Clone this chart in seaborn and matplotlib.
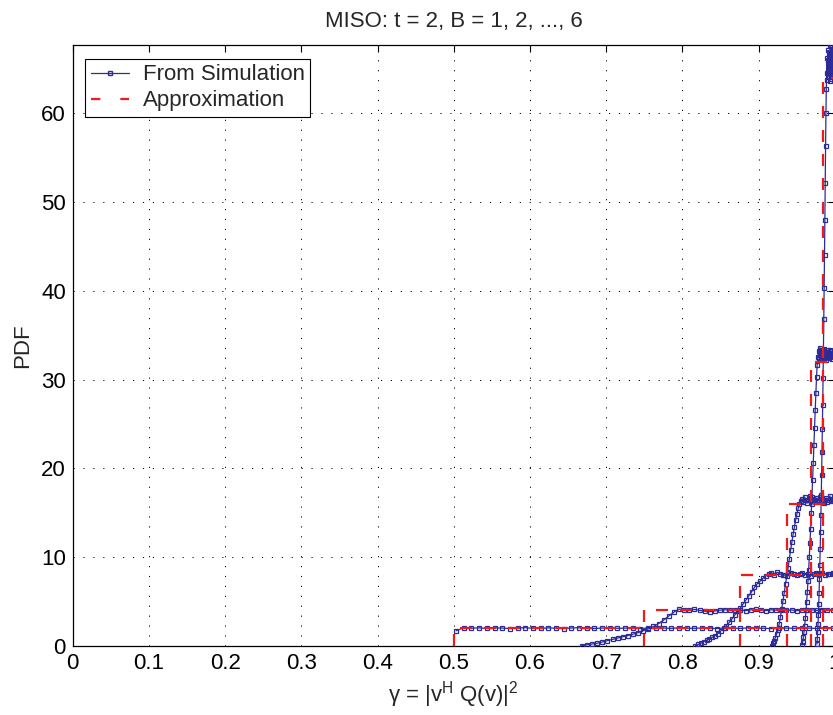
import numpy as np
import pandas as pd
import matplotlib
matplotlib.use("Agg")
import matplotlib.pyplot as plt
import seaborn as sns
from matplotlib.lines import Line2D

# ---------------- data ----------------
bits = [1, 2, 3, 4, 5, 6]
sim_start = [0.503, 0.668, 0.817, 0.917, 0.957, 0.9765]
sim_end = [0.997, 0.997, 0.998, 0.9985, 0.9993, 0.9997]

sim_b1 = [1.72, 2.06, 2.01, 2.04, 1.98, 2.05, 2.02, 1.97, 2.03, 2.06,
          2.00, 1.99, 2.04, 2.01, 1.96, 2.03, 2.05, 2.00, 1.98, 2.02,
          2.04, 1.99, 2.01, 2.06, 1.97, 2.02, 2.00, 2.03, 1.98, 2.05,
          2.01, 1.99, 2.04, 2.00, 1.97, 2.03, 2.02, 1.98, 2.05, 2.01,
          2.00, 1.96, 2.04, 2.02, 1.99, 2.03, 2.01, 1.98, 2.04, 2.00]
sim_b2 = [0.05, 0.13, 0.22, 0.31, 0.45, 0.60, 0.74, 0.90, 1.04, 1.18,
          1.33, 1.50, 1.72, 1.93, 2.20, 2.52, 2.93, 3.38, 3.82, 4.15,
          4.10, 4.06, 4.12, 4.02, 3.92, 3.86, 3.95, 4.04, 4.08, 4.01,
          4.10, 4.05, 3.98, 4.07, 4.12, 4.03, 3.99, 4.08, 4.04, 4.11,
          4.00, 4.06, 3.97, 4.09, 4.03, 4.07, 4.01, 4.10, 4.04, 4.06]
sim_b3 = [0.05, 0.18, 0.32, 0.50, 0.64, 0.80, 0.98, 1.17, 1.40, 1.68,
          1.98, 2.30, 2.65, 3.05, 3.48, 3.90, 4.28, 4.75, 5.20, 5.65,
          6.12, 6.62, 7.02, 7.30, 7.62, 7.90, 8.10, 8.22, 8.05, 8.30,
          8.15, 7.95, 8.02, 8.18, 8.26, 8.08, 7.98, 8.12, 8.28, 8.04,
          8.16, 7.92, 8.10, 8.24, 8.06, 8.20, 8.00, 8.14, 8.08, 8.22]
sim_b4 = [0.05, 0.30, 0.60, 0.95, 1.35, 1.85, 2.5, 3.3, 4.2, 5.1,
          6.0, 7.0, 7.9, 8.8, 9.8, 10.8, 11.7, 12.6, 13.4, 14.2,
          14.9, 15.5, 16.0, 16.3, 16.6, 16.2, 16.8, 16.4, 16.1, 16.5,
          16.9, 16.3, 16.0, 16.6, 16.4, 16.7, 16.2, 16.5, 16.8, 16.3,
          16.6, 16.1, 16.4, 16.7, 16.2, 16.5, 16.9, 16.3, 16.6, 16.4]
sim_b5 = [0.1, 0.5, 1.0, 1.6, 2.3, 3.1, 4.0, 5.0, 6.1, 7.3,
          8.6, 10.0, 11.6, 13.2, 15.0, 16.8, 18.7, 20.6, 22.6, 24.6,
          26.6, 28.5, 30.3, 31.7, 32.6, 33.2, 32.5, 33.6, 32.9, 32.3,
          33.4, 32.7, 33.0, 32.4, 33.5, 32.8, 32.2, 33.1, 32.6, 33.3,
          32.9, 32.5, 33.4, 32.7, 33.0, 32.3, 33.2, 32.8, 32.6, 33.1]
sim_b6 = [0.2, 0.8, 1.6, 2.5, 3.5, 4.7, 6.0, 7.5, 9.1, 10.9,
          12.8, 14.8, 17.0, 19.3, 21.8, 24.4, 27.2, 30.2, 33.4, 36.8,
          40.3, 44.0, 48.0, 52.2, 56.3, 60.0, 62.8, 64.5, 66.2, 63.8,
          65.9, 67.1, 64.2, 66.8, 65.3, 63.6, 66.5, 67.7, 64.9, 65.6,
          63.9, 66.9, 65.1, 64.4, 67.3, 65.8, 64.1, 66.4, 65.0, 66.0]
sim_values = [sim_b1, sim_b2, sim_b3, sim_b4, sim_b5, sim_b6]

approx_start = [0.5, 0.75, 0.875, 0.9375, 0.96875, 0.984375]
approx_height = [2, 4, 8, 16, 32, 64]

x_ticks = [0, 0.1, 0.2, 0.3, 0.4, 0.5, 0.6, 0.7, 0.8, 0.9, 1]
x_tick_labels = ["0", "0.1", "0.2", "0.3", "0.4", "0.5", "0.6", "0.7", "0.8", "0.9", "1"]
y_ticks = [0, 10, 20, 30, 40, 50, 60]

# ---------------- tables ----------------
rows = []
for b, s, e, vals in zip(bits, sim_start, sim_end, sim_values):
    xs = np.linspace(s, e, len(vals))
    for xv, yv in zip(xs, vals):
        rows.append({"B": b, "gamma": xv, "pdf": yv})
sim_df = pd.DataFrame(rows)

arows = []
for b, s, h in zip(bits, approx_start, approx_height):
    arows.append({"B": b, "order": 0, "gamma": s, "pdf": 0.0})
    arows.append({"B": b, "order": 1, "gamma": s, "pdf": float(h)})
    arows.append({"B": b, "order": 2, "gamma": 1.0, "pdf": float(h)})
approx_df = pd.DataFrame(arows)

# ---------------- style ----------------
sns.set_style("white")
plt.rcParams["font.family"] = ["Liberation Sans", "DejaVu Sans"]
plt.rcParams["mathtext.fontset"] = "custom"
plt.rcParams["mathtext.rm"] = "Liberation Sans"
plt.rcParams["mathtext.it"] = "Liberation Sans"
plt.rcParams["lines.dashed_pattern"] = [5.4, 5.4]

FS = 16
blue = "#2c2c98"
red = "#f01a1a"

fig = plt.figure(figsize=(8.33, 7.15), dpi=100)
ax = fig.add_axes([0.0874, 0.0965, 0.9148, 0.8405])

sns.lineplot(data=sim_df, x="gamma", y="pdf", units="B", estimator=None,
             color=blue, linewidth=0.9, marker="s", markersize=3.4,
             markerfacecolor="none", markeredgecolor=blue, markeredgewidth=0.9,
             ax=ax, legend=False, zorder=3)
sns.lineplot(data=approx_df, x="gamma", y="pdf", units="B", estimator=None,
             sort=False, color=red, linewidth=1.6, linestyle="--",
             ax=ax, legend=False, zorder=4)

ax.set_xlim(0, 1)
ax.set_ylim(0, 67.7)
ax.set_xticks(x_ticks)
ax.set_xticklabels(x_tick_labels)
ax.set_yticks(y_ticks)
ax.tick_params(direction="in", length=5, width=0.8, top=True, right=True,
               labelsize=FS, colors="black")
ax.tick_params(axis="x", pad=5)
ax.tick_params(axis="y", pad=5)
ax.grid(True, color="black", linewidth=0.7, linestyle=(0, (1.2, 9)))
for sp in ax.spines.values():
    sp.set_color("black")
    sp.set_linewidth(0.9)

ax.set_title("MISO: t = 2, B = 1, 2, ..., 6", fontsize=FS, pad=13)
ax.set_xlabel(r"γ = |v$^{\mathregular{H}}$ Q(v)|$^{\mathregular{2}}$", fontsize=FS, labelpad=4)
ax.set_ylabel("PDF", fontsize=FS, labelpad=6)

handles = [
    Line2D([0], [0], color=blue, linewidth=0.9, marker="s", markersize=3.4,
           markerfacecolor="none", markeredgecolor=blue),
    Line2D([0], [0], color=red, linewidth=1.6, linestyle="--", dashes=(4.2, 9.0)),
]
leg = ax.legend(handles, ["From Simulation", "Approximation"], loc="upper left",
                bbox_to_anchor=(0.016, 0.977), borderaxespad=0, fontsize=FS,
                frameon=True, fancybox=False, framealpha=1, edgecolor="black",
                handlelength=1.75, handletextpad=0.6, labelspacing=0.22,
                borderpad=0.25, numpoints=1)
leg.get_frame().set_linewidth(0.8)

fig.savefig("out.png", dpi=100)
